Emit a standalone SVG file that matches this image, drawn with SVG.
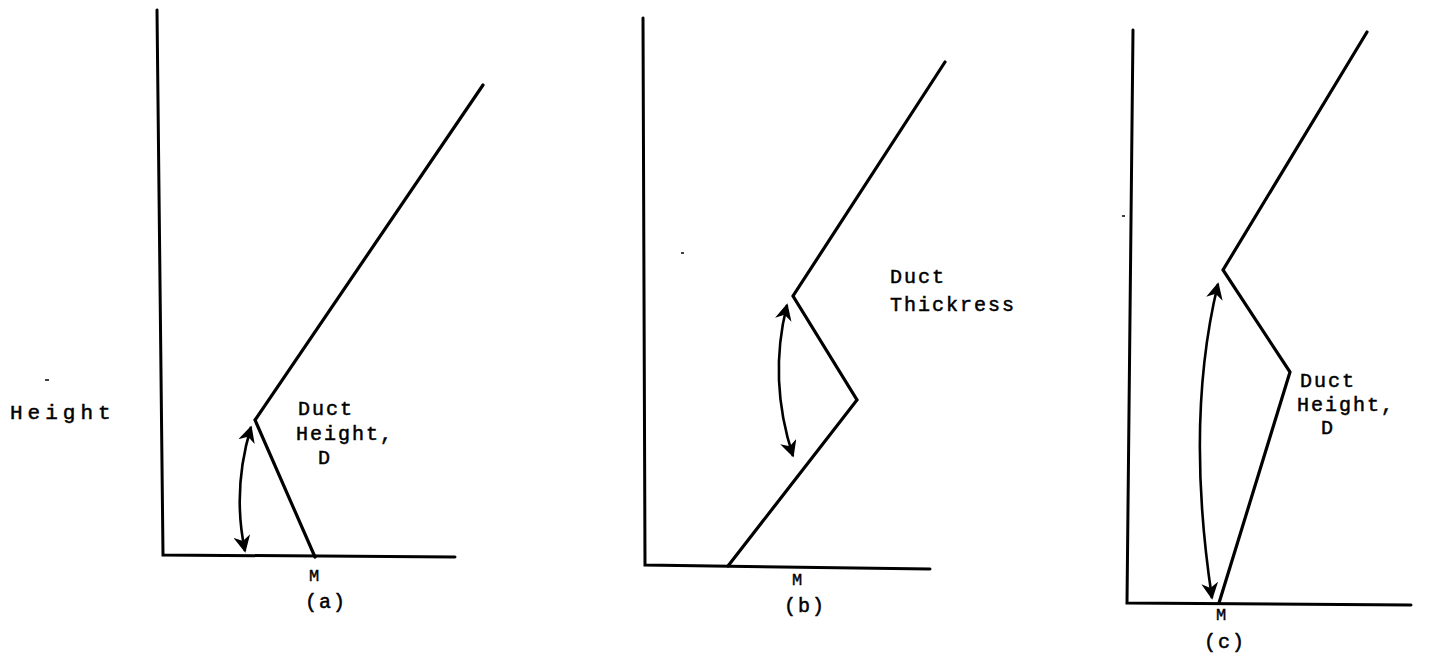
<svg xmlns="http://www.w3.org/2000/svg" width="1449" height="669" viewBox="0 0 1449 669">
<style>
.ax{fill:none;stroke:#000;stroke-width:3;stroke-linecap:round;stroke-linejoin:miter}
.cv{fill:none;stroke:#000;stroke-width:3.2;stroke-linecap:round;stroke-linejoin:miter}
.ar{fill:none;stroke:#000;stroke-width:2.6;marker-start:url(#ah);marker-end:url(#ah)}
.t{font-family:"Liberation Mono","DejaVu Sans Mono",monospace;font-size:20px;fill:#000;stroke:#000;stroke-width:0.5;letter-spacing:2px}
.s{font-family:"Liberation Mono","DejaVu Sans Mono",monospace;font-size:17px;fill:#000;stroke:#000;stroke-width:0.4}
.n{stroke:#000;stroke-width:1.5}
</style>
<defs>
<marker id="ah" viewBox="0 0 10 10" refX="9" refY="5" markerWidth="6.5" markerHeight="6.5" orient="auto-start-reverse" markerUnits="strokeWidth">
<path d="M0,0 L10,5 L0,10 L3,5 Z" fill="#000"/>
</marker>
</defs>
<rect width="1449" height="669" fill="#fff"/>
<text class="t" x="10" y="419" style="font-size:21px;letter-spacing:5px">Height</text>
<line class="n" x1="45" y1="380" x2="49" y2="380"/>
<g id="panel-a">
<polyline class="ax" points="157,10 163,555 455,557"/>
<polyline class="cv" points="315,557 255,420 483,85"/>
<path class="ar" d="M251,427 Q232,490 245,551"/>
<text class="t" x="298" y="415">Duct</text>
<text class="t" x="296" y="440">Height,</text>
<text class="t" x="318" y="464">D</text>
<text class="s" x="309" y="581">M</text>
<text class="t" x="305" y="608">(a)</text>
</g>
<g id="panel-b">
<polyline class="ax" points="643,18 645,565 930,569"/>
<polyline class="cv" points="728,566 857,400 793,296 945,62"/>
<path class="ar" d="M787,305 Q768,380 793,456"/>
<line class="n" x1="681" y1="253" x2="684" y2="253"/>
<text class="t" x="890" y="283">Duct</text>
<text class="t" x="890" y="311">Thickress</text>
<text class="s" x="792" y="585">M</text>
<text class="t" x="784" y="612">(b)</text>
</g>
<g id="panel-c">
<polyline class="ax" points="1133,30 1127,603 1411,605"/>
<polyline class="cv" points="1219,603 1290,372 1223,270 1367,32"/>
<path class="ar" d="M1218,284 Q1185,420 1212,598"/>
<line class="n" x1="1122" y1="216" x2="1125" y2="216"/>
<text class="t" x="1300" y="387">Duct</text>
<text class="t" x="1297" y="411">Height,</text>
<text class="t" x="1321" y="434">D</text>
<text class="s" x="1216" y="620">M</text>
<text class="t" x="1204" y="648">(c)</text>
</g>
</svg>
